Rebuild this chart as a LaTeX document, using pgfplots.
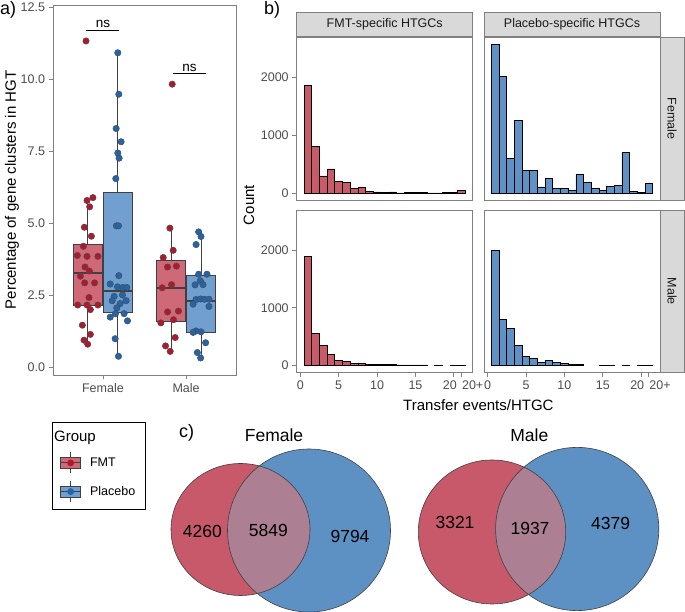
\documentclass[border=0pt]{standalone}
\usepackage{pgfplots}
\pgfplotsset{compat=1.18}
\usepgfplotslibrary{statistics}
\usepackage{fontspec}
\setmainfont{Liberation Sans}

\definecolor{redbar}{RGB}{200,90,106}
\definecolor{bluebar}{RGB}{96,145,196}
\definecolor{redbox}{RGB}{207,105,120}
\definecolor{bluebox}{RGB}{112,159,208}
\definecolor{redpt}{RGB}{178,24,43}
\definecolor{bluept}{RGB}{33,102,172}
\definecolor{redvenn}{RGB}{199,89,106}
\definecolor{bluevenn}{RGB}{94,145,195}
\definecolor{ovl}{RGB}{173,127,147}
\definecolor{framegray}{RGB}{128,128,128}
\definecolor{tickgray}{RGB}{77,77,77}
\definecolor{stripgray}{RGB}{217,217,217}

\pgfplotsset{
  boxplot/every median/.style={line width=2.2pt},
  boxplot/draw direction=y,
  common/.style={
    scale only axis,
    /pgf/number format/assume math mode=true,
    tick label style={font=\fontsize{12.5}{14}\selectfont, color=tickgray},
    axis line style={framegray, line width=0.8pt},
    tick style={framegray, line width=0.8pt},
    tick align=outside, major tick length=4.5pt,
    xtick pos=bottom, ytick pos=left,
  },
  hist/.style={
    common, width=176pt, xmin=-0.47, xmax=22.45, ymin=-128, ymax=2700,
    anchor=south west,
  },
  histbar/.style={ybar, bar width=1, draw=black, line width=0.8pt},
}

\begin{document}
\begin{tikzpicture}
\useasboundingbox (0pt,0pt) rectangle (685pt,612pt);

% ---------------- Panel a ----------------
\begin{axis}[common,
  at={(53pt,237pt)}, anchor=south west, width=183pt, height=370pt,
  xmin=0.4, xmax=2.6, ymin=-0.28, ymax=12.57,
  xtick={1,2}, xticklabels={Female,Male},
  ytick={0,2.5,5,7.5,10,12.5},
  yticklabel style={/pgf/number format/.cd, fixed, fixed zerofill, precision=1},
  every axis y label/.style={at={(axis description cs:-0.224,0.5)}, rotate=90, anchor=center},
  ylabel={Percentage of gene clusters in HGT},
  ylabel style={font=\fontsize{15}{17}\selectfont},
  clip=false,
]
\addplot[boxplot prepared={draw position=0.82, lower whisker=0.79, lower quartile=2.12,
  median=3.27, upper quartile=4.24, upper whisker=5.88, box extend=0.34, whisker extend=0},
  fill=redbox, draw=black!75, line width=1pt] coordinates {};
\addplot[boxplot prepared={draw position=1.18, lower whisker=0.37, lower quartile=1.89,
  median=2.64, upper quartile=6.07, upper whisker=10.91, box extend=0.34, whisker extend=0},
  fill=bluebox, draw=black!75, line width=1pt] coordinates {};
\addplot[boxplot prepared={draw position=1.82, lower whisker=0.54, lower quartile=1.57,
  median=2.75, upper quartile=3.68, upper whisker=4.82, box extend=0.34, whisker extend=0},
  fill=redbox, draw=black!75, line width=1pt] coordinates {};
\addplot[boxplot prepared={draw position=2.18, lower whisker=0.31, lower quartile=1.2,
  median=2.29, upper quartile=3.16, upper whisker=4.69, box extend=0.34, whisker extend=0},
  fill=bluebox, draw=black!75, line width=1pt] coordinates {};

% jittered points
\addplot[only marks, mark=*, mark size=3.2pt, mark options={fill=redpt, draw=black!70, line width=0.5pt}]
coordinates {
(0.797,11.32) (0.880,5.88) (0.809,5.78) (0.841,5.56) (0.777,4.85) (0.861,4.54)
(0.765,4.19) (0.693,3.87) (0.809,3.84) (0.940,3.84) (0.785,3.47) (0.837,3.33)
(0.729,3.15) (0.781,2.92) (0.900,2.92) (0.833,2.41) (0.697,2.15) (0.809,2.15)
(0.940,2.15) (0.849,1.99) (0.753,1.45) (0.849,1.13) (0.773,0.93) (0.817,0.79)
(1.833,9.82) (1.805,4.82) (1.845,4.05) (1.725,3.80) (1.777,3.47) (1.884,3.50)
(1.713,2.75) (1.825,2.86) (1.777,1.91) (1.908,1.94) (1.697,1.53) (1.849,1.64)
(1.869,1.02) (1.753,0.73) (1.809,0.54)
};
\addplot[only marks, mark=*, mark size=3.2pt, mark options={fill=bluept, draw=black!70, line width=0.5pt}]
coordinates {
(1.179,10.91) (1.191,9.47) (1.159,8.28) (1.219,7.82) (1.179,7.43) (1.195,7.25)
(1.155,6.54) (1.163,4.90) (1.187,4.90) (1.191,3.17) (1.088,2.88) (1.175,2.78)
(1.239,2.76) (1.287,2.76) (1.135,2.45) (1.235,2.50) (1.279,2.30) (1.112,2.30)
(1.207,2.20) (1.167,2.05) (1.088,1.73) (1.151,1.85) (1.255,1.85) (1.295,1.60)
(1.147,0.98) (1.187,0.37)
(2.151,4.69) (2.179,4.53) (2.120,4.25) (2.151,3.22) (2.251,3.22) (2.171,2.99)
(2.108,2.85) (2.203,2.86) (2.120,2.34) (2.175,2.36) (2.219,2.35) (2.275,2.35)
(2.084,2.18) (2.275,2.10) (2.120,1.25) (2.179,1.22) (2.084,1.20) (2.235,0.84)
(2.135,0.50) (2.175,0.31)
};
% significance brackets
\addplot[black, line width=0.7pt] coordinates {(0.80,11.69) (1.195,11.69)};
\addplot[black, line width=0.7pt] coordinates {(1.837,10.19) (2.243,10.19)};
\node[above, inner sep=2pt, font=\fontsize{13.5}{15}\selectfont] at (axis cs:1.0,11.69) {ns};
\node[above, inner sep=2pt, font=\fontsize{13.5}{15}\selectfont] at (axis cs:2.04,10.19) {ns};
\end{axis}

% ---------------- Panel b ----------------
% top-left: FMT, Female
\begin{axis}[hist, at={(296.7pt,411.3pt)}, height=163.7pt,
  ytick={0,1000,2000}, yticklabels={0,1000,2000}, xtick=\empty]
\addplot[histbar, fill=redbar] coordinates {
(1,1868) (2,805) (3,299) (4,420) (5,201) (6,190) (7,80) (8,103) (9,29) (10,23)
(11,12) (12,23) (13,6) (14,12) (15,17) (16,12) (17,6) (18,6) (19,12) (20,12) (21,46)};
\end{axis}
% top-right: Placebo, Female
\begin{axis}[hist, at={(484pt,411.3pt)}, height=163.7pt, ytick=\empty, xtick=\empty]
\addplot[histbar, fill=bluebar] coordinates {
(1,2569) (2,2017) (3,603) (4,1253) (5,397) (6,397) (7,109) (8,259) (9,86) (10,86)
(11,52) (12,322) (13,184) (14,86) (15,46) (16,115) (17,138) (18,713) (19,34) (20,15) (21,167)};
\end{axis}
% bottom-left: FMT, Male
\begin{axis}[hist, at={(296.7pt,239.3pt)}, height=162.7pt,
  ytick={0,1000,2000}, yticklabels={0,1000,2000},
  xtick={0,5,10,15,20,21}, xticklabels={0,5,10,15,\llap{20\hspace{-3pt}},\rlap{\hspace{0.5pt}20+}}]
\addplot[histbar, fill=redbar] coordinates {
(1,1885) (2,556) (3,344) (4,195) (5,92) (6,69) (7,40) (8,40) (9,23) (10,17)
(11,11) (12,11) (13,6) (14,6) (15,6) (16,6) (18,2) (20,2) (21,2)};
\end{axis}
% bottom-right: Placebo, Male
\begin{axis}[hist, at={(484pt,239.3pt)}, height=162.7pt, ytick=\empty,
  xtick={0,5,10,15,20,21}, xticklabels={0,5,10,15,\llap{20\hspace{-3pt}},\rlap{\hspace{0.5pt}20+}}]
\addplot[histbar, fill=bluebar] coordinates {
(1,1989) (2,802) (3,642) (4,344) (5,160) (6,115) (7,52) (8,80) (9,52) (10,40)
(11,11) (12,23) (15,2) (16,2) (18,3) (20,2) (21,2)};
\end{axis}

% strips
\draw[framegray, fill=stripgray, line width=0.8pt] (296.7pt,575.3pt) rectangle (472.7pt,599.3pt);
\draw[framegray, fill=stripgray, line width=0.8pt] (484pt,575.3pt) rectangle (660pt,599.3pt);
\draw[framegray, fill=stripgray, line width=0.8pt] (660pt,411.3pt) rectangle (684pt,575pt);
\draw[framegray, fill=stripgray, line width=0.8pt] (660pt,239.3pt) rectangle (684pt,402pt);
\node[font=\fontsize{12.5}{14}\selectfont, text=black!90] at (384.7pt,587.3pt) {FMT-specific HTGCs};
\node[font=\fontsize{12.5}{14}\selectfont, text=black!90] at (572pt,587.3pt) {Placebo-specific HTGCs};
\node[font=\fontsize{12.5}{14}\selectfont, text=black!90, rotate=-90] at (672pt,493.2pt) {Female};
\node[font=\fontsize{12.5}{14}\selectfont, text=black!90, rotate=-90] at (672pt,320.7pt) {Male};
\node[font=\fontsize{15}{17}\selectfont, rotate=90] at (249pt,407pt) {Count};
\node[font=\fontsize{15}{17}\selectfont] at (478.4pt,207pt) {Transfer events/HTGC};

% panel letters
\node[font=\fontsize{18}{20}\selectfont, anchor=west, inner sep=0pt] at (0pt,602pt) {a)};
\node[font=\fontsize{18}{20}\selectfont] at (272pt,602pt) {b)};
\node[font=\fontsize{18}{20}\selectfont] at (186.7pt,179.3pt) {c)};

% ---------------- Panel c (Venn) and legend ----------------
\begin{axis}[at={(0pt,0pt)}, anchor=south west, scale only axis, width=685pt, height=612pt,
  xmin=0, xmax=685, ymin=0, ymax=612, hide axis, clip=false,
  legend style={at={(axis cs:51.7,190.3)}, anchor=north west, draw=black, line width=0.8pt,
    fill=white, font=\fontsize{12.5}{14}\selectfont, row sep=7pt, inner xsep=8pt, inner ysep=7pt},
  legend cell align=left,
]
\addlegendimage{empty legend}
\addlegendentry{\hspace{-29pt}\fontsize{15}{17}\selectfont Group}
\addlegendimage{legend image code/.code={
  \draw[black!75, line width=0.7pt] (10pt,-10.5pt) -- (10pt,10.5pt);
  \draw[black!75, line width=0.7pt, fill=redbox] (0pt,-5.5pt) rectangle (20pt,5.5pt);
  \draw[black!75, line width=1pt] (0pt,0pt) -- (20pt,0pt);
  \fill[redpt] (10pt,0pt) circle (3pt);}}
\addlegendentry{\hspace{7pt}FMT}
\addlegendimage{legend image code/.code={
  \draw[black!75, line width=0.7pt] (10pt,-10.5pt) -- (10pt,10.5pt);
  \draw[black!75, line width=0.7pt, fill=bluebox] (0pt,-5.5pt) rectangle (20pt,5.5pt);
  \draw[black!75, line width=1pt] (0pt,0pt) -- (20pt,0pt);
  \fill[bluept] (10pt,0pt) circle (3pt);}}
\addlegendentry{\hspace{7pt}Placebo}

% Female venn
\fill[redvenn] (axis cs:240.5,82.5) ellipse [x radius=69.5pt, y radius=66pt];
\fill[bluevenn] (axis cs:309,81.5) circle [radius=81.5pt];
\begin{scope}
\clip (axis cs:240.5,82.5) ellipse [x radius=69.5pt, y radius=66pt];
\fill[ovl] (axis cs:309,81.5) circle [radius=81.5pt];
\end{scope}
\draw[black!75, line width=0.6pt] (axis cs:240.5,82.5) ellipse [x radius=69.5pt, y radius=66pt];
\draw[black!75, line width=0.6pt] (axis cs:309,81.5) circle [radius=81.5pt];
% Male venn
\fill[redvenn] (axis cs:492,80) ellipse [x radius=73.7pt, y radius=72pt];
\fill[bluevenn] (axis cs:577.2,83) circle [radius=81.6pt];
\begin{scope}
\clip (axis cs:492,80) ellipse [x radius=73.7pt, y radius=72pt];
\fill[ovl] (axis cs:577.2,83) circle [radius=81.6pt];
\end{scope}
\draw[black!75, line width=0.6pt] (axis cs:492,80) ellipse [x radius=73.7pt, y radius=72pt];
\draw[black!75, line width=0.6pt] (axis cs:577.2,83) circle [radius=81.6pt];

\node[font=\fontsize{17.5}{19}\selectfont] at (axis cs:274,177) {Female};
\node[font=\fontsize{17.5}{19}\selectfont] at (axis cs:529.3,177) {Male};
\node[font=\fontsize{17.5}{19}\selectfont] at (axis cs:202.3,81) {4260};
\node[font=\fontsize{17.5}{19}\selectfont] at (axis cs:268.3,82) {5849};
\node[font=\fontsize{17.5}{19}\selectfont] at (axis cs:350,75.3) {9794};
\node[font=\fontsize{17.5}{19}\selectfont] at (axis cs:455,89.3) {3321};
\node[font=\fontsize{17.5}{19}\selectfont] at (axis cs:530,83.3) {1937};
\node[font=\fontsize{17.5}{19}\selectfont] at (axis cs:610.7,88.7) {4379};
\end{axis}
\end{tikzpicture}
\end{document}
